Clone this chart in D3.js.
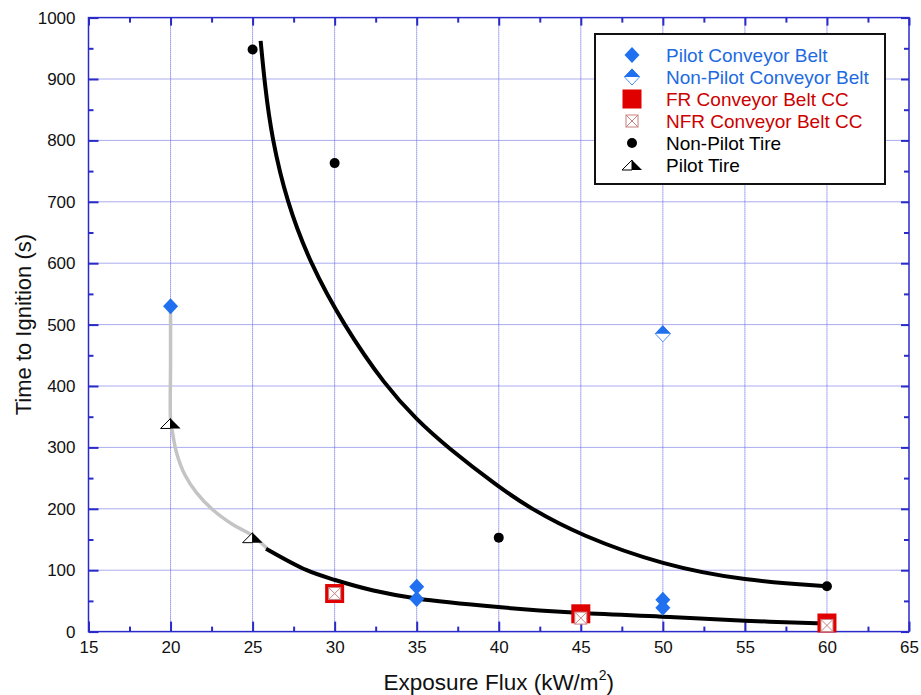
<!DOCTYPE html>
<html>
<head>
<meta charset="utf-8">
<script src="https://cdn.jsdelivr.net/npm/d3@7"></script>
<style>
  body { margin: 0; background: #fff; }
  svg { display: block; font-family: "Liberation Sans", Arial, sans-serif; }
</style>
</head>
<body>
<svg id="chart" width="921" height="695"></svg>
<script>
// ---- data ----
const xTicks = [15, 20, 25, 30, 35, 40, 45, 50, 55, 60, 65];
const xMinor = [17.5, 22.5, 27.5, 32.5, 37.5, 42.5, 47.5, 52.5, 57.5, 62.5];
const yTicks = [0, 100, 200, 300, 400, 500, 600, 700, 800, 900, 1000];
const yMinor = [50, 150, 250, 350, 450, 550, 650, 750, 850, 950];

const pilotBelt = [[20, 530], [35, 73], [35, 53], [50, 52], [50, 39]];
const nonPilotBelt = [[50, 485]];
const frBeltCC = [[30, 62], [45, 29], [60, 14]];
const nfrBeltCC = [[30, 62], [45, 22], [60, 10]];
const nonPilotTire = [[25, 948], [30, 763], [40, 153], [60, 74]];
const pilotTire = [[20, 339], [25, 153]];

// fitted trend for non-pilot tire
const nonPilotTireFit = [
  [25.49, 962], [25.76, 887], [26.16, 806], [27.08, 700], [28.5, 600],
  [30.53, 500], [33.1, 400], [35.0, 345], [36.83, 301], [39.97, 236],
  [41.9, 201], [44.95, 157], [50.03, 108], [55.0, 83], [59.98, 74]
];
// light segment of the pilot trend
const pilotFitLight = [
  [20, 530], [20, 440], [20, 345], [20.07, 332], [20.37, 291], [20.88, 255],
  [21.59, 226], [22.59, 198], [23.81, 174], [24.95, 157], [25.86, 136]
];
// dark segment of the pilot trend
const pilotFitDark = [
  [25.82, 135], [28.3, 100], [30.03, 84], [32.36, 67], [35.0, 54],
  [39.97, 40], [44.54, 31], [49.93, 24.3], [55.0, 17.8], [59.38, 13.5], [60, 13]
];

const legendItems = [
  { label: "Pilot Conveyor Belt", color: "#1e6be0", marker: "diamond" },
  { label: "Non-Pilot Conveyor Belt", color: "#1e6be0", marker: "halfDiamond" },
  { label: "FR Conveyor Belt CC", color: "#cc0000", marker: "square" },
  { label: "NFR Conveyor Belt CC", color: "#cc0000", marker: "xbox" },
  { label: "Non-Pilot Tire", color: "#000000", marker: "circle" },
  { label: "Pilot Tire", color: "#000000", marker: "halfTri" }
];

// ---- layout ----
const svg = d3.select("#chart");
const plotL = 88.5, plotR = 909, plotT = 17.6, plotB = 631.6;
const x = d3.scaleLinear().domain([15, 65]).range([plotL, plotR]);
const y = d3.scaleLinear().domain([0, 1000]).range([plotB, plotT]);

const BLUE = "#2a2ac8";
const GRID = "#5858e0";
const MARK_BLUE = "#2070f0";
const MARK_RED = "#e00000";
const NFR_STROKE = "#c88080";

// grid
const grid = svg.append("g");
grid.selectAll("line.gx").data(xTicks.slice(1, -1)).join("line")
  .attr("x1", d => x(d)).attr("x2", d => x(d))
  .attr("y1", plotT).attr("y2", plotB)
  .attr("stroke", GRID).attr("stroke-width", 1).attr("stroke-dasharray", "1,1");
grid.selectAll("line.gy").data(yTicks.slice(1, -1)).join("line")
  .attr("y1", d => y(d)).attr("y2", d => y(d))
  .attr("x1", plotL).attr("x2", plotR)
  .attr("stroke", GRID).attr("stroke-width", 1).attr("stroke-dasharray", "1,1");

// axes (inward ticks on all four sides)
function styleAxis(g) {
  g.select(".domain").remove();
  g.selectAll(".tick line").attr("stroke", BLUE).attr("stroke-width", 2);
  g.selectAll(".tick text").attr("fill", "#111").attr("font-size", 17);
}
svg.append("g").attr("transform", `translate(0,${plotB})`)
  .call(d3.axisBottom(x).tickValues(xTicks).tickSizeInner(-10).tickSizeOuter(0).tickPadding(9).tickFormat(d3.format("d")))
  .call(styleAxis);
svg.append("g").attr("transform", `translate(0,${plotB})`)
  .call(d3.axisBottom(x).tickValues(xMinor).tickSizeInner(-5).tickSizeOuter(0).tickFormat(""))
  .call(styleAxis);
svg.append("g").attr("transform", `translate(0,${plotT})`)
  .call(d3.axisTop(x).tickValues(xTicks).tickSizeInner(-8).tickSizeOuter(0).tickFormat(""))
  .call(styleAxis);
svg.append("g").attr("transform", `translate(0,${plotT})`)
  .call(d3.axisTop(x).tickValues(xMinor).tickSizeInner(-5).tickSizeOuter(0).tickFormat(""))
  .call(styleAxis);
svg.append("g").attr("transform", `translate(${plotL},0)`)
  .call(d3.axisLeft(y).tickValues(yTicks).tickSizeInner(-10).tickSizeOuter(0).tickPadding(13).tickFormat(d3.format("d")))
  .call(styleAxis);
svg.append("g").attr("transform", `translate(${plotL},0)`)
  .call(d3.axisLeft(y).tickValues(yMinor).tickSizeInner(-5).tickSizeOuter(0).tickFormat(""))
  .call(styleAxis);
svg.append("g").attr("transform", `translate(${plotR},0)`)
  .call(d3.axisRight(y).tickValues(yTicks).tickSizeInner(-8).tickSizeOuter(0).tickFormat(""))
  .call(styleAxis);
svg.append("g").attr("transform", `translate(${plotR},0)`)
  .call(d3.axisRight(y).tickValues(yMinor).tickSizeInner(-5).tickSizeOuter(0).tickFormat(""))
  .call(styleAxis);

// frame
svg.append("rect").attr("x", plotL).attr("y", plotT)
  .attr("width", plotR - plotL).attr("height", plotB - plotT)
  .attr("fill", "none").attr("stroke", BLUE).attr("stroke-width", 1.5);

// axis titles
svg.append("text").attr("x", (plotL + plotR) / 2).attr("y", 690)
  .attr("text-anchor", "middle").attr("font-size", 22.5).attr("fill", "#111")
  .call(t => {
    t.append("tspan").text("Exposure Flux (kW/m");
    t.append("tspan").attr("font-size", 14).attr("dy", -10).text("2");
    t.append("tspan").attr("dy", 10).text(")");
  });
svg.append("text")
  .attr("transform", `translate(31,${(plotT + plotB) / 2}) rotate(-90)`)
  .attr("text-anchor", "middle").attr("font-size", 22).attr("fill", "#111")
  .text("Time to Ignition (s)");

// trend curves
const lineCR = d3.line().x(d => x(d[0])).y(d => y(d[1])).curve(d3.curveCatmullRom.alpha(0.5));
const lineSmooth = d3.line().x(d => x(d[0])).y(d => y(d[1])).curve(d3.curveBasis);
svg.append("path").attr("d", lineCR(pilotFitLight))
  .attr("fill", "none").attr("stroke", "#c4c4c4").attr("stroke-width", 3.5);
svg.append("path").attr("d", lineCR(pilotFitDark))
  .attr("fill", "none").attr("stroke", "#000").attr("stroke-width", 4);
svg.append("path").attr("d", lineSmooth(nonPilotTireFit))
  .attr("fill", "none").attr("stroke", "#000").attr("stroke-width", 4);

// marker drawing
function drawMarker(g, type) {
  switch (type) {
    case "diamond":
      g.append("path").attr("d", "M0,-8L7.5,0L0,8L-7.5,0Z").attr("fill", MARK_BLUE);
      break;
    case "halfDiamond":
      g.append("path").attr("d", "M0,-8L7.5,0L0,8L-7.5,0Z").attr("fill", "#fff")
        .attr("stroke", MARK_BLUE).attr("stroke-width", 0.8);
      g.append("path").attr("d", "M0,-8.5L8,0L-8,0Z").attr("fill", MARK_BLUE);
      break;
    case "square":
      g.append("rect").attr("x", -9.5).attr("y", -9.5).attr("width", 19).attr("height", 19)
        .attr("fill", MARK_RED);
      break;
    case "xbox":
      g.append("rect").attr("x", -6).attr("y", -6).attr("width", 12).attr("height", 12)
        .attr("fill", "#fff").attr("stroke", NFR_STROKE).attr("stroke-width", 1);
      g.append("path").attr("d", "M-6,-6L6,6M6,-6L-6,6")
        .attr("stroke", NFR_STROKE).attr("stroke-width", 1).attr("fill", "none");
      break;
    case "circle":
      g.append("circle").attr("r", 5).attr("fill", "#000");
      break;
    case "halfTri":
      g.append("path").attr("d", "M0,-5L-10,5L0,5Z").attr("fill", "#fff")
        .attr("stroke", "#000").attr("stroke-width", 1);
      g.append("path").attr("d", "M0,-5L10,5L0,5Z").attr("fill", "#000");
      break;
  }
}
function plotSeries(data, type) {
  const g = svg.append("g");
  data.forEach(d => {
    const m = g.append("g").attr("transform", `translate(${x(d[0])},${y(d[1])})`);
    drawMarker(m, type);
  });
}
plotSeries(nonPilotTire, "circle");
plotSeries(pilotTire, "halfTri");
plotSeries(frBeltCC, "square");
plotSeries(nfrBeltCC, "xbox");
plotSeries(pilotBelt, "diamond");
plotSeries(nonPilotBelt, "halfDiamond");

// legend
const lg = svg.append("g");
lg.append("rect").attr("x", 595).attr("y", 34).attr("width", 290).attr("height", 150)
  .attr("fill", "#fff").attr("stroke", "#111").attr("stroke-width", 2);
legendItems.forEach((item, i) => {
  const cy = 55 + i * 22;
  const m = lg.append("g").attr("transform", `translate(632,${cy})`);
  drawMarker(m, item.marker);
  lg.append("text").attr("x", 666).attr("y", cy).attr("dy", "0.35em")
    .attr("font-size", 19).attr("fill", item.color).text(item.label);
});
</script>
</body>
</html>
